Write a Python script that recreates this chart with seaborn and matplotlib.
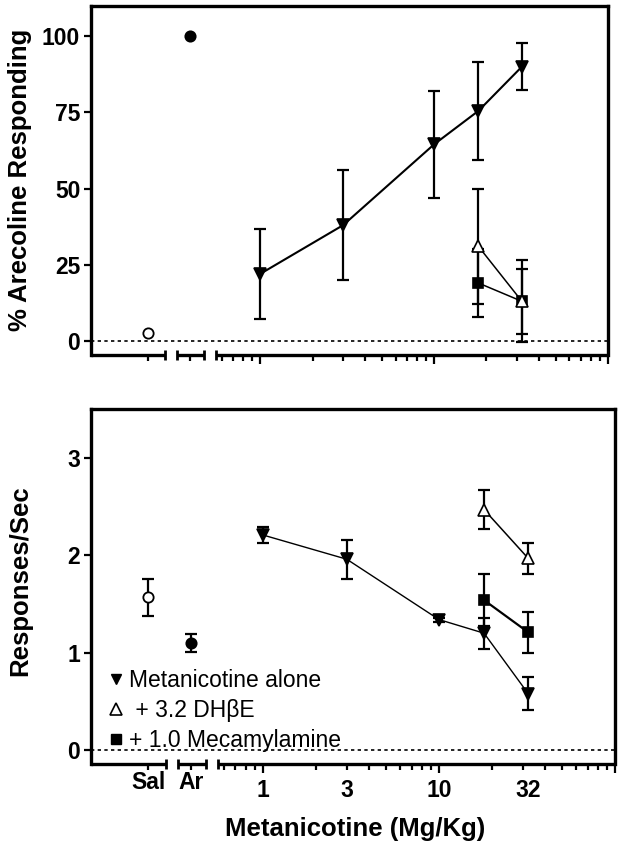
import pandas as pd
import seaborn as sns
import matplotlib.pyplot as plt
from matplotlib.lines import Line2D
from matplotlib.ticker import NullFormatter
from matplotlib.transforms import blended_transform_factory

# Metanicotine doses (mg/kg)
doses = [1, 3, 10, 18, 32]
antag_doses = [18, 32]

# Top panel: % arecoline-appropriate responding (mean, SEM)
pct_alone = [22, 38, 64.5, 75.5, 90]
pct_alone_sem = [14.8, 18, 17.5, 16, 7.6]
pct_dhbe = [31, 13]
pct_dhbe_sem = [18.8, 13.5]
pct_meca = [19, 13]
pct_meca_sem = [11.2, 10.7]
pct_sal, pct_sal_sem = 2.5, 0
pct_ar, pct_ar_sem = 100, 0

# Bottom panel: responses/sec (mean, SEM)
rate_alone = [2.21, 1.96, 1.34, 1.20, 0.58]
rate_alone_sem = [0.08, 0.2, 0.02, 0.16, 0.165]
rate_dhbe = [2.47, 1.97]
rate_dhbe_sem = [0.2, 0.16]
rate_meca = [1.54, 1.21]
rate_meca_sem = [0.27, 0.21]
rate_sal, rate_sal_sem = 1.57, 0.19
rate_ar, rate_ar_sem = 1.10, 0.09

labels = ['Metanicotine alone', ' + 3.2 DH\u03b2E', '+ 1.0 Mecamylamine']

# where Sal / Ar sit on the broken log axis
SAL_X, AR_X = 0.225, 0.395
XLIM = (10 ** -0.975, 100)

sns.set_theme(style='ticks', rc={'axes.edgecolor': 'black', 'xtick.color': 'black',
                                 'ytick.color': 'black', 'text.color': 'black',
                                 'axes.labelcolor': 'black'})
plt.rcParams['font.family'] = ['Liberation Sans', 'DejaVu Sans']
plt.rcParams['font.weight'] = 'bold'
plt.rcParams['axes.labelweight'] = 'bold'

fig = plt.figure(figsize=(6.21, 8.49), dpi=100)
ax_top = fig.add_axes([0.146, 0.5819, 0.833, 0.4114])
ax_bot = fig.add_axes([0.146, 0.1001, 0.845, 0.4182])


def draw_panel(ax, alone, alone_sem, dhbe, dhbe_sem, meca, meca_sem,
               sal, sal_sem, ar, ar_sem, lws):
    ax.axhline(0, color='black', lw=1.2, ls=(0, (2, 2)), zorder=1)
    series = [
        (doses, alone, alone_sem, 'v', 'black', 8, lws[0]),
        (antag_doses, meca, meca_sem, 's', 'black', 7.2, lws[2]),
        (antag_doses, dhbe, dhbe_sem, '^', 'white', 8, lws[1]),
    ]
    for x, y, e, m, fc, ms, lw in series:
        ax.errorbar(x, y, yerr=e, fmt='none', ecolor='black', elinewidth=1.6,
                    capsize=4.5, capthick=1.6, zorder=2)
        sns.lineplot(x=x, y=y, ax=ax, color='black', lw=lw, marker=m, markersize=ms,
                     markerfacecolor=fc, markeredgecolor='black', markeredgewidth=1.2,
                     zorder=3, legend=False)
    # controls
    for x, y, e, fc in [(SAL_X, sal, sal_sem, 'white'), (AR_X, ar, ar_sem, 'black')]:
        if e:
            ax.errorbar([x], [y], yerr=[e], fmt='none', ecolor='black', elinewidth=1.6,
                        capsize=4.5, capthick=1.6, zorder=2)
        sns.scatterplot(x=[x], y=[y], ax=ax, marker='o', s=55, color=fc,
                        edgecolor='black', linewidth=1.3, zorder=3, legend=False)


def style_axis(ax, yticks, ylim, show_xlabels):
    ax.set_xscale('log')
    ax.set_xlim(*XLIM)
    ax.set_ylim(*ylim)
    ax.set_yticks(yticks)
    for side in ['left', 'right', 'top']:
        ax.spines[side].set_linewidth(2.4)
    ax.spines['bottom'].set_visible(False)

    # broken bottom axis
    tr = blended_transform_factory(ax.transData, ax.transAxes)
    for a, b in [(XLIM[0], 0.285), (0.333, 0.478), (0.556, XLIM[1])]:
        ax.plot([a, b], [0, 0], transform=tr, color='black', lw=2.4,
                solid_capstyle='butt', clip_on=False, zorder=5)
    ax.plot([0.285, 0.333, 0.478, 0.556], [0, 0, 0, 0], transform=tr, ls='none',
            marker='|', ms=6.5, mew=2, color='black', clip_on=False, zorder=5)

    ax.set_xticks([SAL_X, AR_X, 1, 3, 10, 32, 100],
                  labels=['Sal', 'Ar', '1', '3', '10', '32', ''])
    ax.set_xticks([0.6, 0.7, 0.8, 0.9, 2, 4, 5, 6, 7, 8, 9,
                   20, 30, 40, 50, 60, 70, 80, 90], minor=True)
    ax.xaxis.set_minor_formatter(NullFormatter())
    ax.tick_params(axis='x', which='major', length=6.5, width=1.6, pad=4.3,
                   labelsize=16.5, labelbottom=show_xlabels)
    ax.tick_params(axis='x', which='minor', length=4, width=1.6)
    ax.tick_params(axis='y', length=5, width=1.6, pad=2.5, labelsize=16.5)

    ticks = ax.xaxis.get_major_ticks()
    for i in (0, 1):
        ticks[i].set_pad(-1.5)
    for i in (0, 1, 3):
        ticks[i].tick1line.set_markersize(4.5)
    ticks[5].tick1line.set_markersize(0)


draw_panel(ax_top, pct_alone, pct_alone_sem, pct_dhbe, pct_dhbe_sem, pct_meca, pct_meca_sem,
           pct_sal, pct_sal_sem, pct_ar, pct_ar_sem, lws=[1.5, 1.1, 1.1])
draw_panel(ax_bot, rate_alone, rate_alone_sem, rate_dhbe, rate_dhbe_sem, rate_meca, rate_meca_sem,
           rate_sal, rate_sal_sem, rate_ar, rate_ar_sem, lws=[1.0, 1.1, 1.6])

style_axis(ax_top, [0, 25, 50, 75, 100], (-4.6, 110), False)
style_axis(ax_bot, [0, 1, 2, 3], (-0.144, 3.504), True)

ax_top.set_ylabel('% Arecoline Responding', fontsize=18.5)
ax_top.yaxis.set_label_coords(-0.113, 0.50)
ax_bot.set_ylabel('Responses/Sec', fontsize=18.5)
ax_bot.yaxis.set_label_coords(-0.112, 0.515)
ax_bot.set_xlabel('Metanicotine (Mg/Kg)', fontsize=18.5)
ax_bot.xaxis.set_label_coords(0.504, -0.150)

handles = [
    Line2D([], [], ls='none', marker='v', ms=7.5, mfc='black', mec='black'),
    Line2D([], [], ls='none', marker='^', ms=8, mfc='white', mec='black', mew=1.2),
    Line2D([], [], ls='none', marker='s', ms=7, mfc='black', mec='black'),
]
ax_bot.legend(handles, labels, loc='lower left', bbox_to_anchor=(0.03, 0.035),
              frameon=False, prop={'size': 16.5, 'weight': 'normal'},
              handlelength=0.8, handletextpad=0.2, labelspacing=0.3,
              borderpad=0, borderaxespad=0)

fig.savefig('out.png', dpi=100)
